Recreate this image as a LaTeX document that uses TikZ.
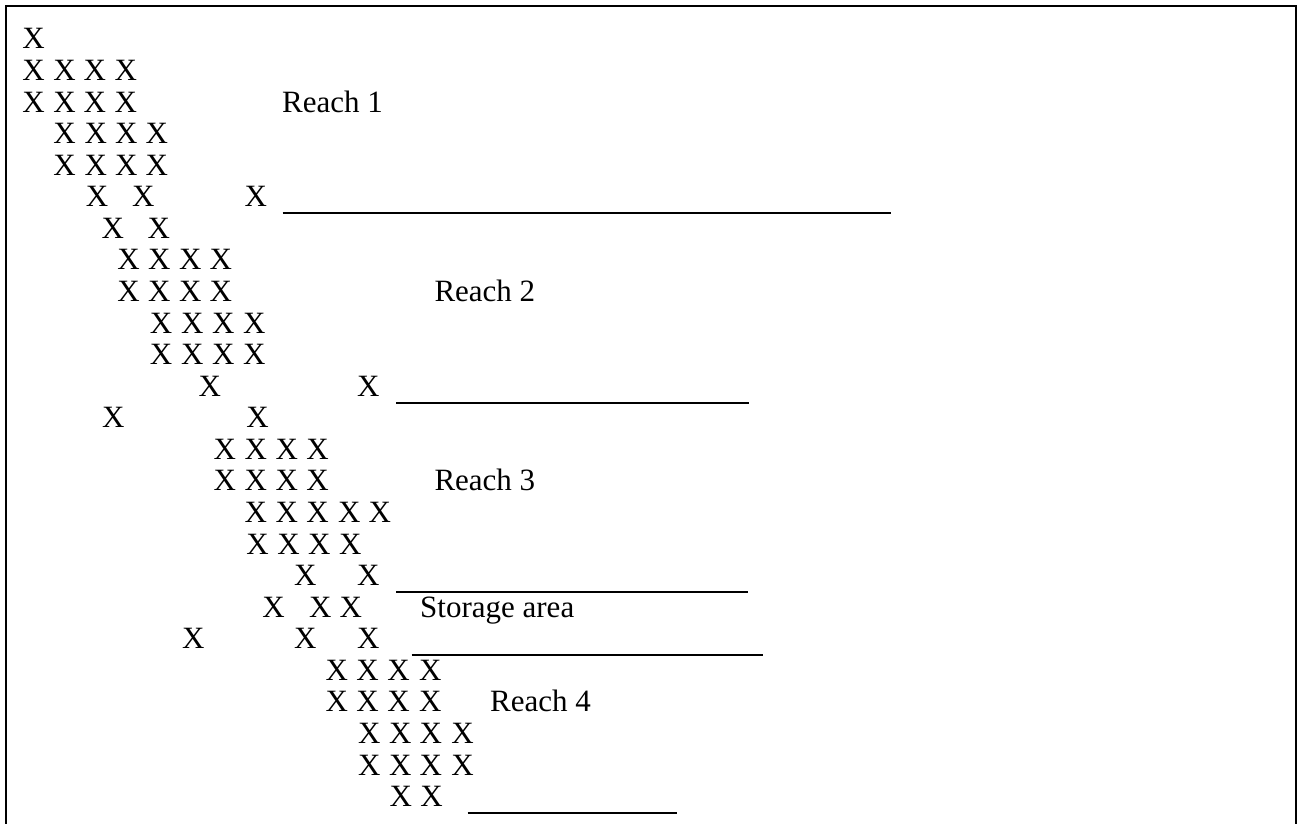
\documentclass[tikz,border=0pt]{standalone}
\usepackage{fontspec}
\setmainfont{Liberation Serif}
\begin{document}
\begin{tikzpicture}[x=1pt,y=-1pt,
  xmark/.style={anchor=base west,inner sep=0pt,outer sep=0pt,font=\fontsize{31}{31}\selectfont},
  lbl/.style={anchor=base west,inner sep=0pt,outer sep=0pt,font=\fontsize{31}{31}\selectfont},
  rule/.style={line width=2pt},
  frame/.style={line width=2pt,line join=miter}]
\useasboundingbox (0,0) rectangle (1301,824);
\draw[frame] (6,826) -- (6,6) -- (1296,6) -- (1296,826);
\foreach \r/\xs in {
  1/{22.4},
  2/{22.4,53.3,83.6,114.5},
  3/{22.4,53.3,83.6,114.5},
  4/{53.3,84.5,115,145.5},
  5/{53.3,84.5,115,145.5},
  6/{85.8,132.0,244.7},
  7/{101.5,147.5},
  8/{117.3,148.2,179.0,209.7},
  9/{117.3,148.2,179.0,209.7},
  10/{149.8,181.2,212.0,243.0},
  11/{149.8,181.2,212.0,243.0},
  12/{198.7,357.0},
  13/{102.0,246.4},
  14/{213.7,244.7,275.7,306.4},
  15/{213.7,244.7,275.7,306.4},
  16/{244.7,275.7,306.4,338.0,368.7},
  17/{246.4,277.4,308.0,339.0},
  18/{294.0,357.0},
  19/{262.4,309.0,339.7},
  20/{182.0,294.0,357.0},
  21/{325.7,356.4,387.4,419.0},
  22/{325.7,356.4,387.4,419.0},
  23/{358.0,389.0,419.7,451.4},
  24/{358.0,389.0,419.7,451.4},
  25/{389.7,420.4}}{
  \foreach \xx [count=\i] in \xs {
    \node[xmark] (x\r-\i) at (\xx,{49+31.57*(\r-1)}) {X};
  }
}
\node[lbl] (reach1) at (282.2,{49+31.57*2}) {Reach 1};
\node[lbl] (reach2) at (434.5,{49+31.57*8}) {Reach 2};
\node[lbl] (reach3) at (434.5,{49+31.57*14}) {Reach 3};
\node[lbl] (storage) at (420.2,{49+31.57*18}) {Storage area};
\node[lbl] (reach4) at (490.2,{49+31.57*21}) {Reach 4};
\draw[rule] (282.7,213) -- (891,213);
\draw[rule] (396,403) -- (748.6,403);
\draw[rule] (396,592) -- (748.4,592);
\draw[rule] (411.7,655) -- (763.3,655);
\draw[rule] (467.7,813) -- (676.7,813);
\end{tikzpicture}
\end{document}
